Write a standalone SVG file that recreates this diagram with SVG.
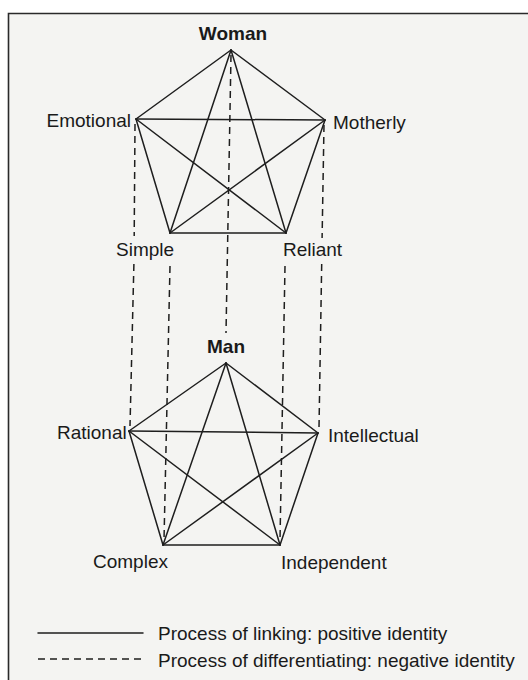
<svg xmlns="http://www.w3.org/2000/svg" width="528" height="680" viewBox="0 0 528 680">
<style>
.e{stroke:#1e1e1e;stroke-width:1.5;fill:none;stroke-linecap:round}
.d{stroke:#1e1e1e;stroke-width:1.5;fill:none;stroke-dasharray:7 5}
.t{font-family:"Liberation Sans",Arial,sans-serif;font-size:19px;fill:#1a1a1a}
.b{font-weight:bold}
</style>
<rect x="0" y="0" width="528" height="680" fill="#ffffff"/>
<rect x="8" y="13" width="530" height="680" fill="#f4f4f2"/>
<path d="M8.5 680 V13.5 H528" stroke="#2a2a2a" stroke-width="1.6" fill="none"/>

<g id="connectors">
  <g id="woman-links">
    <line class="e" x1="231" y1="50" x2="136" y2="119"/>
    <line class="e" x1="231" y1="50" x2="325" y2="120"/>
    <line class="e" x1="231" y1="50" x2="170" y2="233"/>
    <line class="e" x1="231" y1="50" x2="286" y2="233"/>
    <line class="e" x1="136" y1="119" x2="325" y2="120"/>
    <line class="e" x1="136" y1="119" x2="170" y2="233"/>
    <line class="e" x1="136" y1="119" x2="286" y2="233"/>
    <line class="e" x1="325" y1="120" x2="170" y2="233"/>
    <line class="e" x1="325" y1="120" x2="286" y2="233"/>
    <line class="e" x1="170" y1="233" x2="286" y2="233"/>
  </g>
  <g id="man-links">
    <line class="e" x1="226" y1="363" x2="129" y2="431"/>
    <line class="e" x1="226" y1="363" x2="318" y2="433"/>
    <line class="e" x1="226" y1="363" x2="163" y2="545"/>
    <line class="e" x1="226" y1="363" x2="280" y2="545"/>
    <line class="e" x1="129" y1="431" x2="318" y2="433"/>
    <line class="e" x1="129" y1="431" x2="163" y2="545"/>
    <line class="e" x1="129" y1="431" x2="280" y2="545"/>
    <line class="e" x1="318" y1="433" x2="163" y2="545"/>
    <line class="e" x1="318" y1="433" x2="280" y2="545"/>
    <line class="e" x1="163" y1="545" x2="280" y2="545"/>
  </g>
  <g id="differentiating">
    <line class="d" x1="231" y1="55" x2="226" y2="333"/>
    <line class="d" x1="135" y1="124" x2="134.2" y2="236"/>
    <line class="d" x1="133.9" y1="264" x2="130" y2="426"/>
    <line class="d" x1="324" y1="125" x2="322.1" y2="238"/>
    <line class="d" x1="321.7" y1="264" x2="319" y2="428"/>
    <line class="d" x1="170" y1="266" x2="164" y2="540"/>
    <line class="d" x1="285" y1="266" x2="280" y2="540"/>
  </g>
</g>

<g id="woman"><text class="t b" x="233" y="40" text-anchor="middle">Woman</text></g>
<g id="emotional"><text class="t" x="131" y="127" text-anchor="end">Emotional</text></g>
<g id="motherly"><text class="t" x="333" y="129">Motherly</text></g>
<g id="simple"><text class="t" x="116" y="256">Simple</text></g>
<g id="reliant"><text class="t" x="283" y="256">Reliant</text></g>

<g id="man"><text class="t b" x="226" y="353" text-anchor="middle">Man</text></g>
<g id="rational"><text class="t" x="57" y="439">Rational</text></g>
<g id="intellectual"><text class="t" x="328" y="442">Intellectual</text></g>
<g id="complex"><text class="t" x="93" y="568">Complex</text></g>
<g id="independent"><text class="t" x="281" y="569">Independent</text></g>

<g id="legend">
  <line class="e" x1="38" y1="633" x2="143" y2="633"/>
  <line class="d" x1="38" y1="659" x2="143" y2="659"/>
  <text class="t" x="158" y="640">Process of linking: positive identity</text>
  <text class="t" x="158" y="667">Process of differentiating: negative identity</text>
</g>
</svg>
